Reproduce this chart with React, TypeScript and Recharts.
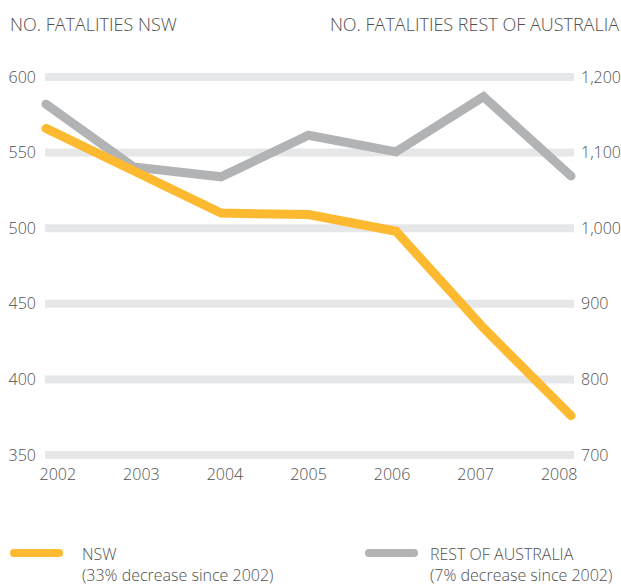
import React from "react";
import { LineChart, Line, XAxis, YAxis, CartesianGrid } from "recharts";

const years = ["2002", "2003", "2004", "2005", "2006", "2007", "2008"];
const nsw = [566, 538, 510, 509, 498, 434, 376];
const restOfAustralia = [1164, 1081, 1068, 1123, 1101, 1174, 1069];
const leftTicks = [350, 400, 450, 500, 550, 600];
const rightTicks = [700, 800, 900, 1000, 1100, 1200];

const data = years.map((y, i) => ({ year: y, nsw: nsw[i], rest: restOfAustralia[i] }));

const FONT = "'Open Sans', 'DejaVu Sans', sans-serif";
const TEXT = "#505050";
const YELLOW = "#FDB92F";
const GREY = "#B2B3B5";

const fmt = (v: number) => v.toLocaleString("en-US");

const XTick = (props: any) => {
  const { x, y, payload } = props;
  const cx = 308.5;
  const tx = cx + (x - cx) * 0.955;
  return (
    <text x={tx} y={y} dy="0.71em" textAnchor="middle" fill={TEXT} fontFamily={FONT} fontWeight={300} fontSize={16}>
      {payload.value}
    </text>
  );
};

export default function App() {
  return (
    <div style={{ position: "absolute", left: 0, top: 0, width: 621, height: 585, background: "#fff", fontFamily: FONT, color: TEXT }}>
      <div style={{ position: "absolute", left: 10, top: 12, fontSize: 18, lineHeight: "24px", fontWeight: 300, whiteSpace: "nowrap" }}>
        NO. FATALITIES NSW
      </div>
      <div style={{ position: "absolute", right: 2, top: 12, fontSize: 18, lineHeight: "24px", fontWeight: 300, whiteSpace: "nowrap" }}>
        NO. FATALITIES REST OF AUSTRALIA
      </div>
      <LineChart width={621} height={585} data={data} margin={{ top: 77, right: 0, bottom: 100, left: 0 }}>
        <CartesianGrid yAxisId="left" horizontal vertical={false} stroke="#E6E7E8" strokeWidth={8} />
        <XAxis
          dataKey="year"
          axisLine={false}
          tickLine={false}
          tickSize={0}
          tickMargin={14}
          height={30}
          padding={{ left: 1, right: 3 }}
          tick={<XTick />}
          interval={0}
        />
        <YAxis
          yAxisId="left"
          orientation="left"
          domain={[350, 600]}
          ticks={leftTicks}
          width={45}
          axisLine={false}
          tickLine={false}
          tickSize={0}
          tickMargin={9}
          tick={{ fill: TEXT, fontFamily: FONT, fontWeight: 300, fontSize: 16 }}
        />
        <YAxis
          yAxisId="right"
          orientation="right"
          domain={[700, 1200]}
          ticks={rightTicks}
          width={47}
          axisLine={false}
          tickLine={false}
          tickSize={0}
          tickMargin={7}
          tickFormatter={fmt}
          tick={{ fill: TEXT, fontFamily: FONT, fontWeight: 300, fontSize: 16 }}
        />
        <Line yAxisId="right" type="linear" dataKey="rest" stroke={GREY} strokeWidth={9} strokeLinecap="round" dot={false} activeDot={false} isAnimationActive={false} />
        <Line yAxisId="left" type="linear" dataKey="nsw" stroke={YELLOW} strokeWidth={9} strokeLinecap="round" dot={false} activeDot={false} isAnimationActive={false} />
      </LineChart>
      <svg style={{ position: "absolute", left: 0, top: 540 }} width={621} height={30}>
        <line x1={14} x2={59} y1={13} y2={13} stroke={YELLOW} strokeWidth={8} strokeLinecap="round" />
        <line x1={369} x2={414} y1={13} y2={13} stroke={GREY} strokeWidth={8} strokeLinecap="round" />
      </svg>
      <div style={{ position: "absolute", left: 82, top: 544, fontSize: 16, fontWeight: 300, lineHeight: "21px", whiteSpace: "nowrap" }}>
        NSW<br />(33% decrease since 2002)
      </div>
      <div style={{ position: "absolute", left: 430, top: 544, fontSize: 16, fontWeight: 300, lineHeight: "21px", whiteSpace: "nowrap" }}>
        REST OF AUSTRALIA<br />(7% decrease since 2002)
      </div>
    </div>
  );
}
